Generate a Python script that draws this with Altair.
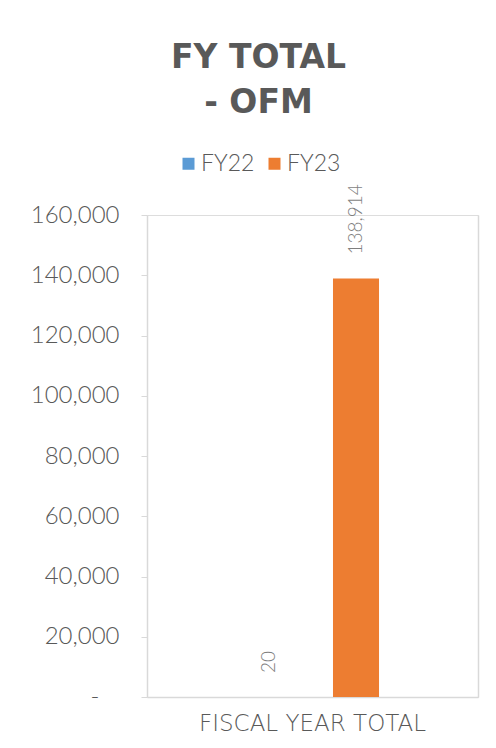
import altair as alt
import pandas as pd

categories = ["FISCAL YEAR TOTAL"]
series = ["FY22", "FY23"]
values = [20, 138914]
colors = ["#5B9BD5", "#ED7D31"]

df = pd.DataFrame({
    "category": [categories[0]] * len(series),
    "series": series,
    "value": values,
})

FONT = "Lato"
GRAY = "#595959"
LINE = "#D9D9D9"

base = alt.Chart(df).encode(
    x=alt.X(
        "category:N",
        title=None,
        scale=alt.Scale(paddingInner=0, paddingOuter=0.451),
        axis=alt.Axis(labelAngle=0, ticks=False, domainColor=LINE, domainWidth=1.5,
                      labelFont="DejaVu Sans", labelFontSize=23, labelColor=GRAY,
                      labelFontWeight=300, labelLimit=0, labelPadding=15),
    ),
    xOffset=alt.XOffset("series:N", sort=series,
                        scale=alt.Scale(paddingInner=0.471, paddingOuter=0.2355)),
    y=alt.Y("value:Q", scale=alt.Scale(domain=[0, 160000], nice=False)),
)

bars = base.mark_bar().encode(
    y=alt.Y("value:Q", scale=alt.Scale(domain=[0, 160000], nice=False),
            axis=alt.Axis(orient="left", title=None, values=list(range(0, 160001, 20000)),
                          labelExpr="datum.value == 0 ? '-' : format(datum.value, ',')",
                          labelFont=FONT, labelFontSize=24, labelColor=GRAY,
                          labelFontWeight=300,
                          tickColor=LINE, tickSize=6, domainColor=LINE, domainWidth=1.5,
                          labelPadding={"condition": {"test": "datum.value == 0", "value": 42},
                                        "value": 22},
                          grid=False)),
    color=alt.Color("series:N", scale=alt.Scale(domain=series, range=colors),
                    legend=alt.Legend(title=None, orient="none", direction="horizontal",
                                      legendX=30, legendY=-63,
                                      symbolType="square", symbolSize=144,
                                      symbolStrokeWidth=0,
                                      labelFont=FONT, labelFontSize=23, labelColor=GRAY,
                                      labelFontWeight=300,
                                      labelOffset=1, columnPadding=8)),
)

labels = base.mark_text(angle=270, align="left", baseline="middle", dx=24,
                        font=FONT, fontSize=19, fontWeight=300, color="#7F7F7F").encode(
    y=alt.Y("value:Q", scale=alt.Scale(domain=[0, 160000], nice=False),
            axis=alt.Axis(orient="right", title=None, labels=False, ticks=False,
                          grid=False, domainColor=LINE, domainWidth=1.5)),
    text=alt.Text("value:Q", format=","),
)

chart = alt.layer(bars, labels).resolve_axis(y="independent").properties(
    width=331,
    height=482,
    autosize=alt.AutoSizeParams(type="none"),
    padding={"left": 139, "top": 207, "right": 10, "bottom": 43},
    title=alt.TitleParams(
        text=["FY TOTAL", "- OFM"],
        font="DejaVu Sans", fontSize=33, fontWeight="bold", color=GRAY,
        anchor="middle", frame="group", dx=-54, lineHeight=45, offset=32,
    ),
).configure_view(stroke=None).configure(background="white")

chart.save("out.html", embed_options={"renderer": "svg", "actions": False})
